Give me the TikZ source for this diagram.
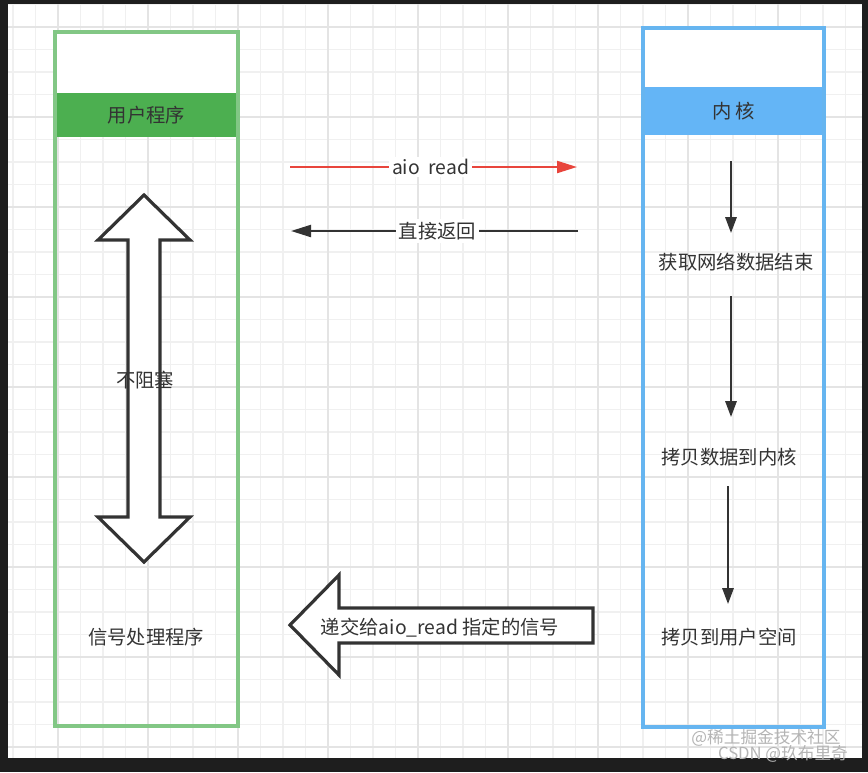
\documentclass[tikz,border=0pt]{standalone}
\usepackage{fontspec}
\setmainfont{Noto Sans CJK SC}
\usetikzlibrary{arrows.meta}
\definecolor{frame}{HTML}{1E1E1E}
\definecolor{gminor}{HTML}{F0F0F0}
\definecolor{gmajor}{HTML}{E4E4E4}
\definecolor{gborder}{HTML}{82C785}
\definecolor{gfill}{HTML}{4CAF50}
\definecolor{bborder}{HTML}{66B5F0}
\definecolor{bfill}{HTML}{64B5F6}
\definecolor{ink}{HTML}{333333}
\definecolor{redline}{HTML}{E8453C}
\definecolor{wm}{HTML}{B4B4B4}
\tikzset{
  txt/.style={text=ink, font=\fontsize{14.5pt}{17pt}\selectfont, inner sep=1pt},
  lbl/.style={txt, fill=white, inner sep=2pt},
  header/.style={inner sep=0pt, text=ink, font=\fontsize{14.5pt}{17pt}\selectfont},
  flow/.style={draw=ink, line width=1.6pt, -{Triangle[length=12pt,width=8.5pt]}},
  blockarrow/.style={draw=ink, line width=2.4pt, fill=white, line join=miter},
  wmtxt/.style={text=wm, font=\fontsize{12.5pt}{14pt}\selectfont, inner sep=0pt},
}
\begin{document}
\begin{tikzpicture}[x=0.75pt,y=-0.75pt]
\useasboundingbox (0,0) rectangle (868,772);
\fill[frame] (0,0) rectangle (868,772);
\fill[white] (8,4) rectangle (862,758);
\begin{scope}
  \clip (8,4) rectangle (862,758);
  \foreach \i in {0,...,38} \draw[gminor, line width=0.8pt] ({13+22.5*\i},4) -- ({13+22.5*\i},758);
  \foreach \i in {0,...,34} \draw[gminor, line width=0.8pt] (8,{4.5+22.5*\i}) -- (862,{4.5+22.5*\i});
  \foreach \i in {0,...,10} \draw[gmajor, line width=0.9pt] ({-32+90*\i},4) -- ({-32+90*\i},758);
  \foreach \i in {0,...,9} \draw[gmajor, line width=0.9pt] (8,{27+90*\i}) -- (862,{27+90*\i});
\end{scope}

% user program column
\fill[white] (55,32) rectangle (238,93);
\node[header, fill=gfill, minimum width=137.25pt, minimum height=33pt] (uhead) at (146.5,115) {用户程序};
\node[draw=gborder, line width=2.6pt, minimum width=137.25pt, minimum height=520.5pt, inner sep=0pt] (user) at (146.5,379) {};

% kernel column
\fill[white] (643,28) rectangle (824,87);
\node[header, fill=bfill, minimum width=135.75pt, minimum height=36pt] (khead) at (733.5,111) {内\,核};
\node[draw=bborder, line width=2.6pt, minimum width=135.75pt, minimum height=524.25pt, inner sep=0pt] (kernel) at (733.5,377.5) {};

% double arrow
\draw[blockarrow] (144,195) -- (190,240) -- (160,240) -- (160,517) -- (190,517) -- (144,562)
  -- (98,517) -- (128,517) -- (128,240) -- (98,240) -- cycle;
\node[txt] (nb) at (145,380) {不阻塞};

\node[txt] (sig) at (146,637) {信号处理程序};

% horizontal arrows
\coordinate (r1) at (290,167);
\coordinate (r2) at (577,167);
\draw[draw=redline, line width=1.6pt, -{Triangle[length=15pt,width=9pt]}] (r1) -- (r2)
  node[lbl, pos=0.49] (aio) {aio\ \ read};
\coordinate (b1) at (578,231);
\coordinate (b2) at (291,231);
\draw[draw=ink, line width=1.6pt, -{Triangle[length=15pt,width=9pt]}] (b1) -- (b2)
  node[lbl, pos=0.49] (ret) {直接返回};

% big left arrow
\draw[blockarrow] (290,625) -- (339,575) -- (339,608) -- (593,608) -- (593,643) -- (339,643) -- (339,675) -- cycle;
\node[txt] (deliver) at (440,628) {递交给aio\_read 指定的信号};

% kernel steps
\node[txt] (k1) at (736,262) {获取网络数据结束};
\node[txt] (k2) at (729,457) {拷贝数据到内核};
\node[txt] (k3) at (729,637) {拷贝到用户空间};
\coordinate (a1s) at (731,161);
\coordinate (a1e) at (731,233);
\coordinate (a2s) at (731,296);
\coordinate (a2e) at (731,417);
\coordinate (a3s) at (728,486);
\coordinate (a3e) at (728,604);
\draw[flow] (a1s) -- (a1e);
\draw[flow] (a2s) -- (a2e);
\draw[flow] (a3s) -- (a3e);

% watermarks
\node[wmtxt] (wm1) at (766,738) {@稀土掘金技术社区};
\node[wmtxt] (wm2) at (783,754) {CSDN @玖布里奇};
\end{tikzpicture}
\end{document}
